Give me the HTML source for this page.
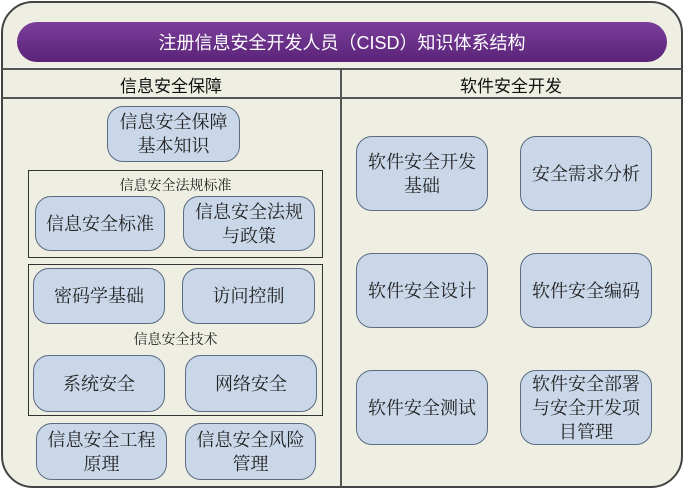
<!DOCTYPE html><html><head><meta charset="utf-8"><style>
body{margin:0;width:685px;height:491px;background:#fff;font-family:"Liberation Sans","Noto Sans CJK SC",sans-serif;position:relative;overflow:hidden}
div{position:absolute;box-sizing:border-box}
.n{background:#c9d7e8;border:1px solid #5b6b82;border-radius:16px;display:flex;align-items:center;justify-content:center;text-align:center;font-size:18px;line-height:24px;color:#222;font-family:"Liberation Serif","Noto Serif CJK SC",serif}
.b{border:1px solid #333}
.l{font-size:14px;color:#222;text-align:center;font-family:"Liberation Serif","Noto Serif CJK SC",serif}
</style></head><body>
<div style="left:1px;top:1px;width:682px;height:487px;background:#eeeee2;border:2px solid #444;border-radius:32px"></div>
<div style="left:17px;top:22px;width:650px;height:40px;border-radius:20px;background:linear-gradient(#7b3f9a,#5a2378);color:#fff;font-size:18px;display:flex;align-items:center;justify-content:center">注册信息安全开发人员（CISD）知识体系结构</div>
<div style="left:2px;top:68px;width:680px;height:1px;border-top:2px solid #555"></div>
<div style="left:2px;top:97px;width:680px;height:1px;border-top:2px solid #555"></div>
<div style="left:340px;top:68px;width:2px;height:419px;background:#555"></div>
<div style="left:2px;top:72px;width:338px;font-size:17px;text-align:center;color:#111">信息安全保障</div>
<div style="left:342px;top:72px;width:338px;font-size:17px;text-align:center;color:#111">软件安全开发</div>
<div class="n" style="left:107px;top:106px;width:133px;height:56px">信息安全保障<br>基本知识</div>
<div class="b" style="left:28px;top:170px;width:295px;height:88px"></div>
<div class="l" style="left:28px;top:175px;width:295px">信息安全法规标准</div>
<div class="n" style="left:35px;top:196px;width:130px;height:55px">信息安全标准</div>
<div class="n" style="left:183px;top:196px;width:132px;height:55px">信息安全法规<br>与政策</div>
<div class="b" style="left:28px;top:264px;width:295px;height:152px"></div>
<div class="n" style="left:33px;top:268px;width:132px;height:56px">密码学基础</div>
<div class="n" style="left:182px;top:268px;width:133px;height:56px">访问控制</div>
<div class="l" style="left:28px;top:329px;width:295px">信息安全技术</div>
<div class="n" style="left:33px;top:355px;width:132px;height:57px">系统安全</div>
<div class="n" style="left:185px;top:355px;width:132px;height:57px">网络安全</div>
<div class="n" style="left:36px;top:423px;width:131px;height:57px">信息安全工程<br>原理</div>
<div class="n" style="left:185px;top:423px;width:131px;height:57px">信息安全风险<br>管理</div>
<div class="n" style="left:356px;top:136px;width:132px;height:75px">软件安全开发<br>基础</div>
<div class="n" style="left:520px;top:136px;width:132px;height:75px">安全需求分析</div>
<div class="n" style="left:356px;top:253px;width:132px;height:75px">软件安全设计</div>
<div class="n" style="left:520px;top:253px;width:132px;height:75px">软件安全编码</div>
<div class="n" style="left:356px;top:370px;width:132px;height:75px">软件安全测试</div>
<div class="n" style="left:520px;top:370px;width:132px;height:75px">软件安全部署<br>与安全开发项<br>目管理</div>
</body></html>
